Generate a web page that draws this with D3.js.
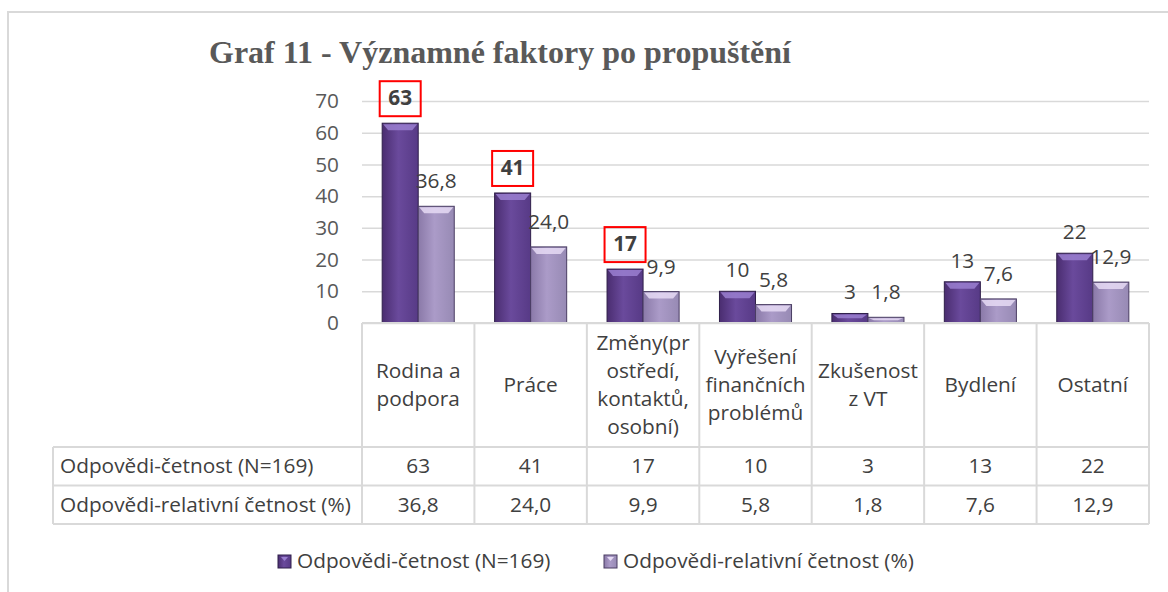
<!DOCTYPE html>
<html>
<head>
<meta charset="utf-8">
<script src="https://cdn.jsdelivr.net/npm/d3@7"></script>
<style>
  body { margin: 0; background: #fff; }
  svg text { font-family: "Open Sans", Lato, sans-serif; }
</style>
</head>
<body>
<div id="container"></div>
<script>
const categories = ['Rodina a podpora', 'Práce', 'Změny(prostředí, kontaktů, osobní)', 'Vyřešení finančních problémů', 'Zkušenost z VT', 'Bydlení', 'Ostatní'];
const categoryLines = [['Rodina a', 'podpora'], ['Práce'], ['Změny(pr', 'ostředí,', 'kontaktů,', 'osobní)'], ['Vyřešení', 'finančních', 'problémů'], ['Zkušenost', 'z VT'], ['Bydlení'], ['Ostatní']];
const seriesNames = ['Odpovědi-četnost (N=169)', 'Odpovědi-relativní četnost (%)'];
const counts = [63, 41, 17, 10, 3, 13, 22];
const percents = [36.8, 24.0, 9.9, 5.8, 1.8, 7.6, 12.9];
const highlighted = [63, 41, 17];
const yTicks = [0, 10, 20, 30, 40, 50, 60, 70];

const w = 1168;
const h = 592;
const plotLeft = 362, plotRight = 1149, plotTop = 101, plotBottom = 323;
const tableLeft = 53, headBottom = 447, rowH = 38.5;
const fs = '20.8px';
const fmt = (v) => v.toFixed(1).replace('.', ',');

const svg = d3.select('#container')
              .append('svg')
              .attr('width', w)
              .attr('height', h);

// gradients for the bevelled bars
const defs = svg.append('defs');
const grads = [
  {id: 'g0', stops: ['#4a2d70', '#6a4a9c', '#573a86']},
  {id: 'g1', stops: ['#8a79a8', '#ab9bc8', '#978ab4']}
];
grads.forEach((g) => {
  const lg = defs.append('linearGradient').attr('id', g.id).attr('x1', 0).attr('x2', 1).attr('y1', 0).attr('y2', 0);
  lg.append('stop').attr('offset', '0%').attr('stop-color', g.stops[0]);
  lg.append('stop').attr('offset', '45%').attr('stop-color', g.stops[1]);
  lg.append('stop').attr('offset', '100%').attr('stop-color', g.stops[2]);
});
const bevel = ['#9a7fd0', '#e6dbf5'];
const outline = ['#2f1f4a', '#4a3d63'];

// outer chart border
svg.append('path')
   .attr('d', `M8,${h} L8,12 L${w},12`)
   .attr('fill', 'none')
   .attr('stroke', '#d9d9d9')
   .attr('stroke-width', 2);

svg.append('text')
   .attr('x', 500)
   .attr('y', 63)
   .attr('text-anchor', 'middle')
   .style('font-family', '"Liberation Serif", "Times New Roman", serif')
   .style('font-size', '32px')
   .style('font-weight', 'bold')
   .attr('fill', '#595959')
   .text('Graf 11 - Významné faktory po propuštění');

const xScale = d3.scaleBand()
                 .domain(categories)
                 .range([plotLeft, plotRight]);
const xSub = d3.scaleBand()
               .domain([0, 1])
               .range([0, xScale.bandwidth()])
               .paddingOuter(0.56);
const yScale = d3.scaleLinear()
                 .domain([0, 70])
                 .range([plotBottom, plotTop]);

const yAxis = d3.axisLeft(yScale)
                .tickValues(yTicks)
                .tickSize(-(plotRight - plotLeft))
                .tickPadding(23)
                .tickFormat(d3.format('d'));
const gy = svg.append('g')
              .attr('transform', `translate(${plotLeft},0)`)
              .call(yAxis);
gy.select('.domain').remove();
gy.selectAll('line').attr('stroke', '#d9d9d9').attr('stroke-width', 1.5);
gy.selectAll('text')
  .attr('fill', '#595959')
  .style('font-size', fs)
  .style('font-family', '"Open Sans", sans-serif');

// bars
const series = [counts, percents];
series.forEach((vals, s) => {
  const g = svg.append('g');
  vals.forEach((v, i) => {
    const x = xScale(categories[i]) + xSub(s);
    const bw = xSub.bandwidth();
    const y = yScale(v);
    const bh = yScale(0) - y;
    g.append('rect')
     .attr('x', x).attr('y', y)
     .attr('width', bw).attr('height', bh)
     .attr('fill', `url(#g${s})`)
     .attr('stroke', outline[s])
     .attr('stroke-width', 1);
    const bv = Math.min(7, bh / 2);
    g.append('path')
     .attr('d', `M${x + 1},${y + 1} L${x + bw - 1},${y + 1} L${x + bw - 6},${y + bv} L${x + 6},${y + bv} Z`)
     .attr('fill', bevel[s])
     .attr('opacity', 0.85);
  });
});

// data labels
counts.forEach((v, i) => {
  const cx = xScale(categories[i]) + xSub(0) + xSub.bandwidth() / 2;
  const isHi = highlighted.includes(v);
  const ty = yScale(v) - (isHi ? 18 : 14);
  if (isHi) {
    svg.append('rect')
       .attr('x', cx - 20.5).attr('y', ty - 24)
       .attr('width', 41).attr('height', 35)
       .attr('fill', 'none')
       .attr('stroke', '#ff0000')
       .attr('stroke-width', 2);
  }
  svg.append('text')
     .attr('x', cx).attr('y', ty)
     .attr('text-anchor', 'middle')
     .attr('fill', '#404040')
     .style('font-size', fs)
     .style('font-weight', isHi ? 'bold' : 'normal')
     .text(v);
});
percents.forEach((v, i) => {
  const cx = xScale(categories[i]) + xSub(1) + xSub.bandwidth() / 2;
  svg.append('text')
     .attr('x', cx).attr('y', yScale(v) - 18)
     .attr('text-anchor', 'middle')
     .attr('fill', '#404040')
     .style('font-size', fs)
     .text(fmt(v));
});

// data table
const tableColor = '#d9d9d9';
const tg = svg.append('g');
tg.append('line').attr('x1', plotLeft).attr('x2', plotRight).attr('y1', plotBottom).attr('y2', plotBottom);
xScale.domain().forEach((c) => {
  tg.append('line').attr('x1', xScale(c)).attr('x2', xScale(c)).attr('y1', plotBottom).attr('y2', headBottom + 2 * rowH);
});
tg.append('line').attr('x1', plotRight).attr('x2', plotRight).attr('y1', plotBottom).attr('y2', headBottom + 2 * rowH);
[0, 1, 2].forEach((r) => {
  tg.append('line').attr('x1', tableLeft).attr('x2', plotRight)
    .attr('y1', headBottom + r * rowH).attr('y2', headBottom + r * rowH);
});
tg.append('line').attr('x1', tableLeft).attr('x2', tableLeft).attr('y1', headBottom).attr('y2', headBottom + 2 * rowH);
tg.selectAll('line').attr('stroke', tableColor).attr('stroke-width', 2);

const lineH = 28;
categories.forEach((c, i) => {
  const lines = categoryLines[i];
  const cx = xScale(c) + xScale.bandwidth() / 2;
  const mid = (plotBottom + headBottom) / 2;
  const t = svg.append('text')
               .attr('text-anchor', 'middle')
               .attr('fill', '#404040')
               .style('font-size', fs);
  lines.forEach((ln, k) => {
    t.append('tspan')
     .attr('x', cx)
     .attr('y', mid + (k - (lines.length - 1) / 2) * lineH + 7)
     .text(ln);
  });
});

series.forEach((vals, s) => {
  const cy = headBottom + s * rowH + rowH / 2 + 7;
  svg.append('text')
     .attr('x', 60).attr('y', cy)
     .attr('fill', '#404040')
     .style('font-size', fs)
     .text(seriesNames[s]);
  vals.forEach((v, i) => {
    svg.append('text')
       .attr('x', xScale(categories[i]) + xScale.bandwidth() / 2)
       .attr('y', cy)
       .attr('text-anchor', 'middle')
       .attr('fill', '#404040')
       .style('font-size', fs)
       .text(s === 0 ? v : fmt(v));
  });
});

// legend
const legendX = [278, 604];
seriesNames.forEach((name, s) => {
  const lx = legendX[s];
  svg.append('rect')
     .attr('x', lx).attr('y', 555)
     .attr('width', 13).attr('height', 13)
     .attr('fill', `url(#g${s})`)
     .attr('stroke', outline[s]);
  svg.append('path')
     .attr('d', `M${lx + 3},${557} L${lx + 10},${557} L${lx + 6.5},${561} Z`)
     .attr('fill', bevel[s]);
  svg.append('text')
     .attr('x', lx + 19).attr('y', 568)
     .attr('fill', '#404040')
     .style('font-size', fs)
     .text(name);
});
</script>
</body>
</html>
